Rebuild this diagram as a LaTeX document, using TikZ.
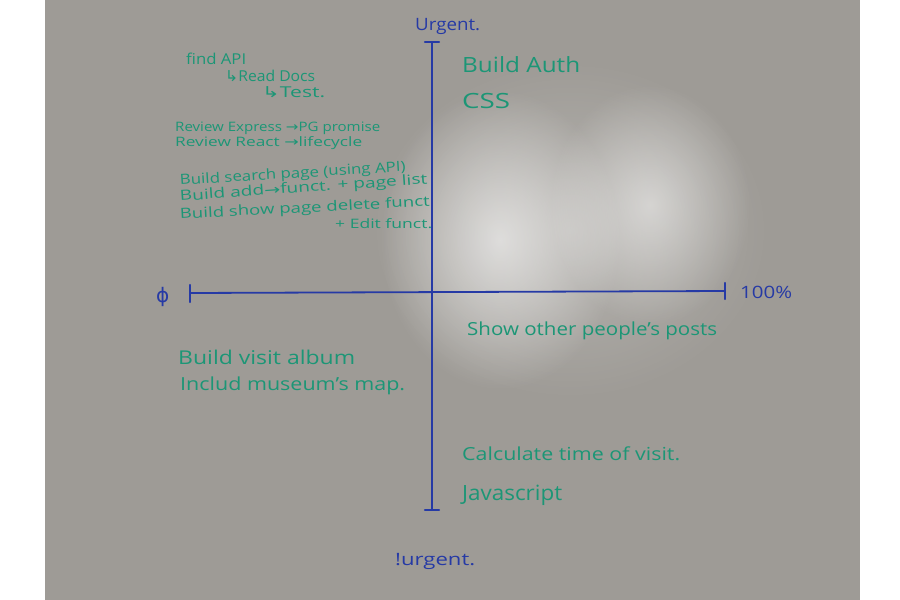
\documentclass[tikz,border=0pt]{standalone}
\usepackage{fontspec}
\usepackage{graphicx}
\usetikzlibrary{fadings}
\setmainfont{Open Sans}
\newfontfamily\symfont{DejaVu Sans}
\definecolor{board}{RGB}{158,155,150}
\definecolor{ink}{RGB}{38,58,165}
\definecolor{marker}{RGB}{28,150,118}
% squeeze or stretch a line of writing to a given width, keeping its height
\newcommand\fitw[2]{\resizebox{#1pt}{\height}{#2}}
\newcommand\arr{{\symfont →}}
\newcommand\hook{{\symfont ↳}}
\tikzfading[name=softspot, inner color=transparent!0, outer color=transparent!100]
\tikzset{
  note/.style={anchor=base west, inner sep=0pt, text=marker, font=\fontsize{15}{15}\selectfont},
  slantnote/.style={note, font=\fontsize{14}{14}\selectfont},
  bignote/.style={note, font=\fontsize{21}{21}\selectfont},
  inklabel/.style={anchor=base west, inner sep=0pt, text=ink, font=\fontsize{17}{17}\selectfont},
  axisline/.style={draw=ink, line width=1.8pt, line cap=round},
  tickmark/.style={draw=ink, line width=2.2pt, line cap=round},
  sheen/.style={fill=white, path fading=softspot},
}
\begin{document}
\begin{tikzpicture}[x=1pt, y=-1pt]
  \useasboundingbox (0,0) rectangle (900,600);
  \fill[white] (0,0) rectangle (900,600);
  % whiteboard surface
  \fill[board] (45,0) rectangle (860,600);
  % reflection of the ceiling light
  \fill[sheen, fill opacity=0.6] (500,240) ellipse (120 and 150);
  \fill[sheen, fill opacity=0.5] (650,205) ellipse (100 and 120);
  \fill[sheen, fill opacity=0.25] (570,230) ellipse (200 and 170);

  % axis end points
  \coordinate (top) at (432,42);
  \coordinate (bottom) at (432,510);
  \coordinate (left) at (190,293);
  \coordinate (right) at (725,291);

  \draw[axisline] (top) -- (bottom);
  \draw[axisline] (left) -- (right);
  \draw[tickmark] ([xshift=-7]top) -- ([xshift=7]top);
  \draw[tickmark] ([xshift=-7]bottom) -- ([xshift=7]bottom);
  \draw[tickmark] ([yshift=-9]left) -- ([yshift=8]left);
  \draw[tickmark] ([yshift=-8]right) -- ([yshift=8]right);

  % axis labels
  \node[inklabel] (urgent) at (415,30) {\fitw{65}{Urgent.}};
  \node[inklabel] (noturgent) at (395,565) {\fitw{80}{!urgent.}};
  \node[inklabel, font=\fontsize{20}{20}\symfont] (zero) at (156,302) {ϕ};
  \node[inklabel] (full) at (740,298) {\fitw{52}{100\%}};

  % top left quadrant
  \node[note] (findapi) at (186,64) {\fitw{60}{find API}};
  \node[note] (readdocs) at (225,81) {\fitw{90}{\hook Read Docs}};
  \node[note] (test) at (262,97) {\fitw{63}{\hook Test.}};
  \node[note, font=\fontsize{13}{13}\selectfont] (express) at (175,131) {\fitw{205}{Review Express \arr PG promise}};
  \node[note, font=\fontsize{13}{13}\selectfont] (react) at (175,146) {\fitw{187}{Review React \arr lifecycle}};
  \node[slantnote, rotate=3.5] (search) at (180,185) {\fitw{226}{Build search page (using API)}};
  \node[slantnote, rotate=4] (addfunct) at (180,201) {\fitw{248}{Build add\arr funct. + page list}};
  \node[slantnote, rotate=3] (showpage) at (180,219) {\fitw{250}{Build show page delete funct}};
  \node[note, font=\fontsize{13}{13}\selectfont] (edit) at (335,228) {\fitw{97}{+ Edit funct.}};

  % top right quadrant
  \node[bignote] (auth) at (462,72) {\fitw{118}{Build Auth}};
  \node[bignote] (css) at (462,108) {\fitw{48}{CSS}};

  % bottom right quadrant
  \node[bignote, font=\fontsize{18}{18}\selectfont] (posts) at (467,335) {\fitw{250}{Show other people's posts}};
  \node[bignote, font=\fontsize{18}{18}\selectfont] (calc) at (462,460) {\fitw{218}{Calculate time of visit.}};
  \node[bignote] (js) at (462,500) {\fitw{100}{Javascript}};

  % bottom left quadrant
  \node[bignote, font=\fontsize{19}{19}\selectfont] (album) at (178,364) {\fitw{177}{Build visit album}};
  \node[bignote, font=\fontsize{18}{18}\selectfont] (map) at (180,390) {\fitw{225}{Includ museum's map.}};
\end{tikzpicture}
\end{document}
